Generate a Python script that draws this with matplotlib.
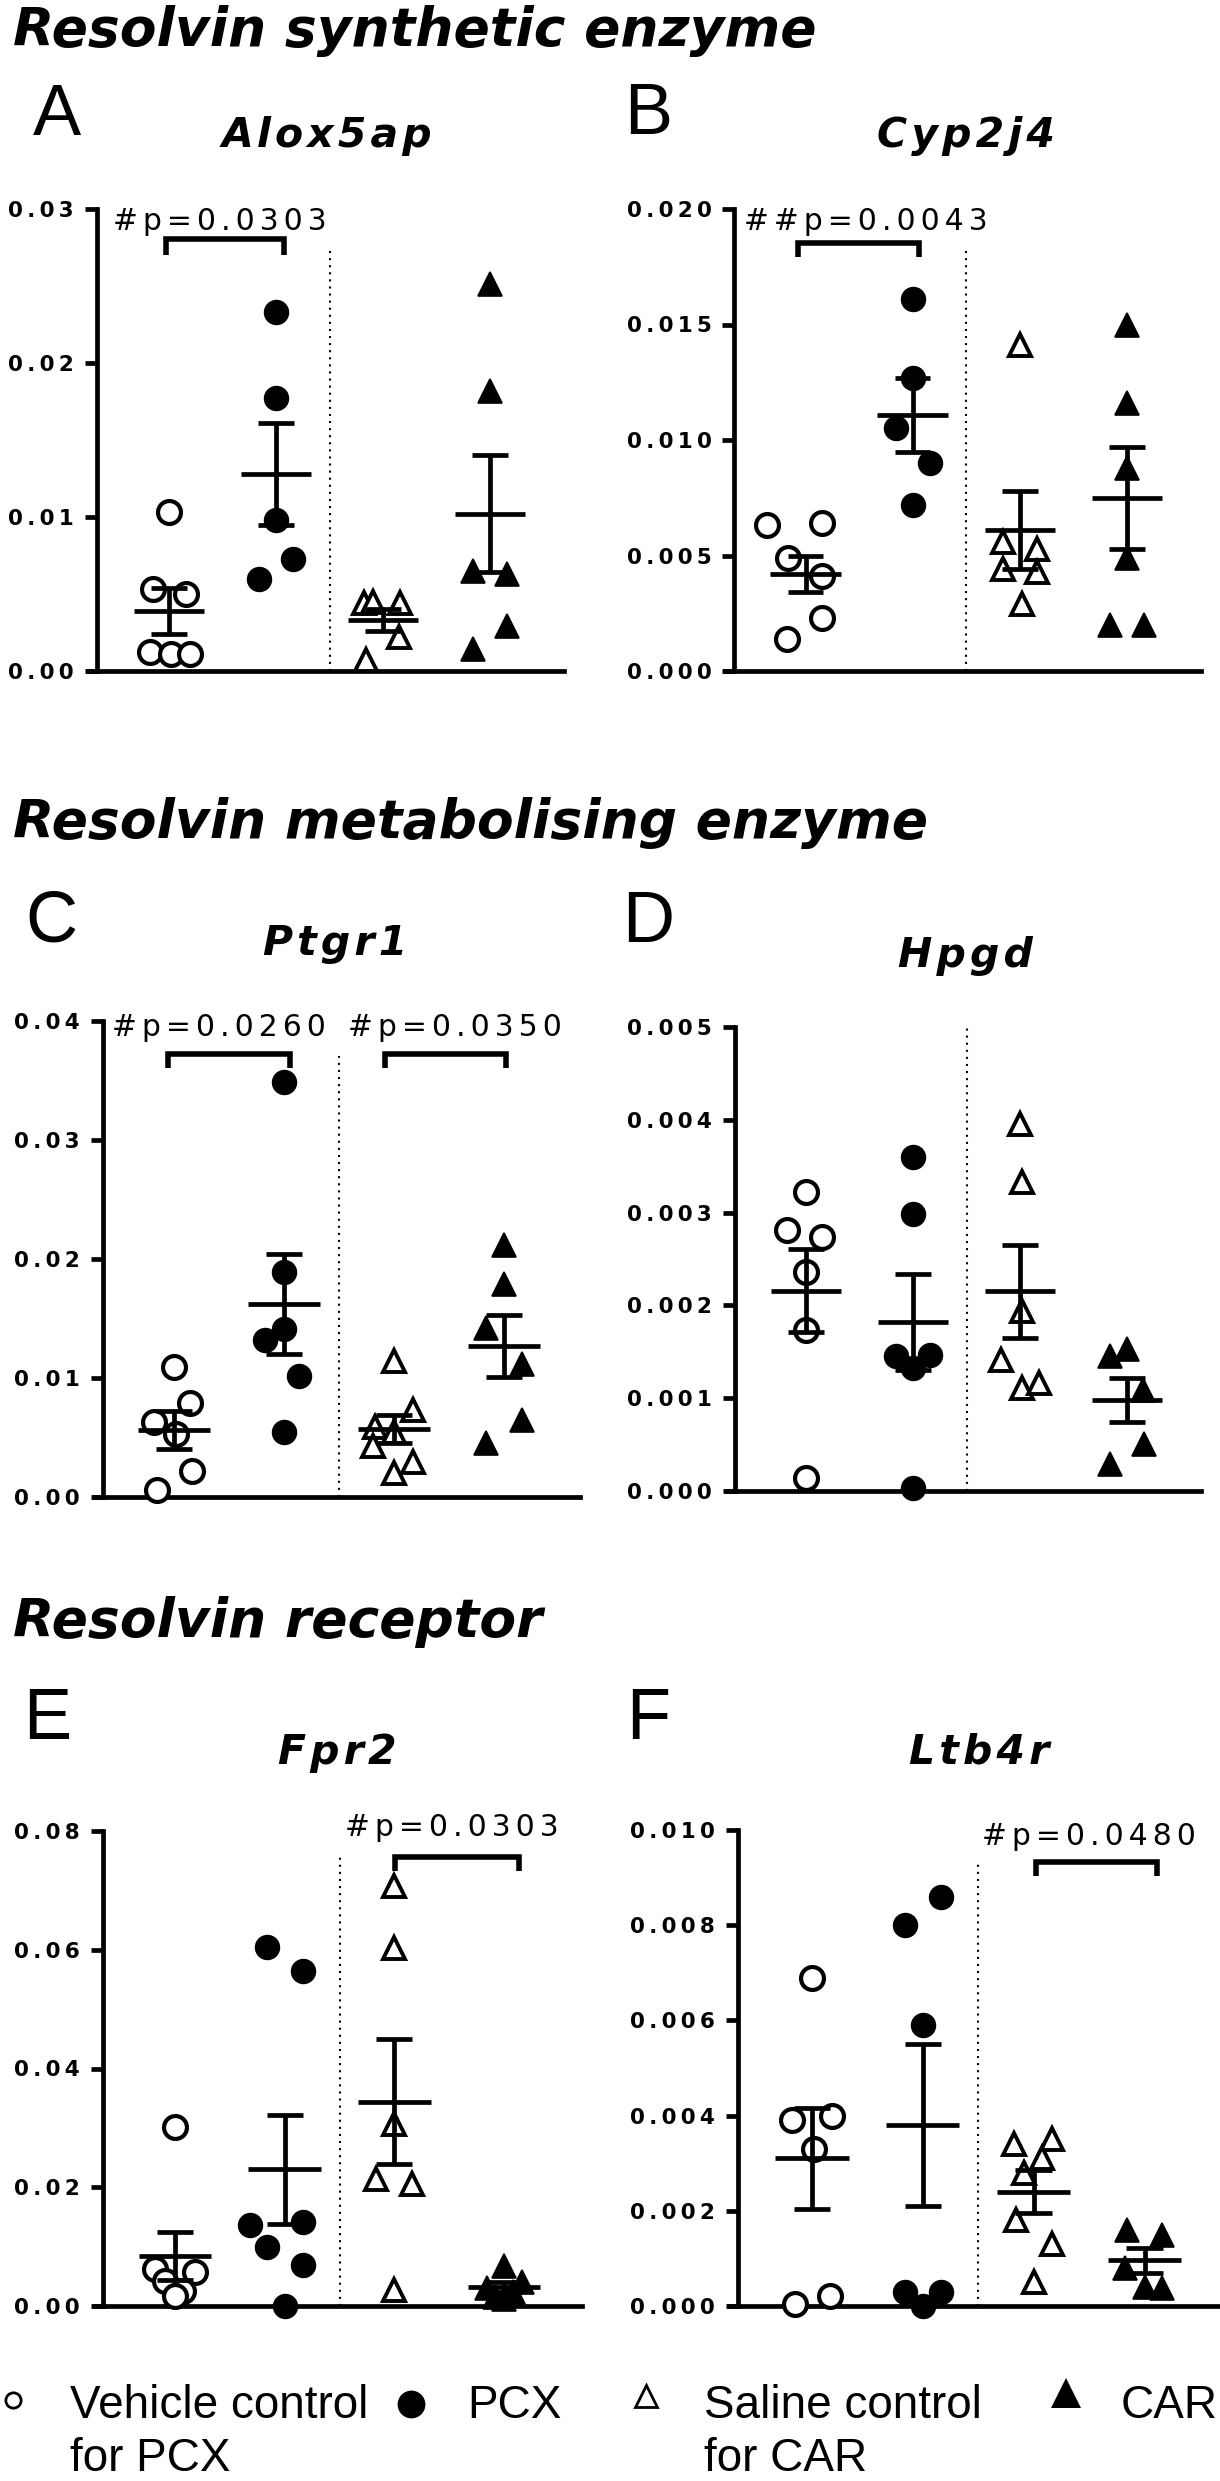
import numpy as np
import matplotlib
matplotlib.use("Agg")
import matplotlib.pyplot as plt
from matplotlib.lines import Line2D

W, H = 1220, 2481
THIN = "\u2009"
SIXTH = "\u2006"
HAIR = "\u200a"

# ---------------- data ----------------
groups = ["Vehicle control\nfor PCX", "PCX", "Saline control\nfor CAR", "CAR"]
genes = ["Alox5ap", "Cyp2j4", "Ptgr1", "Hpgd", "Fpr2", "Ltb4r"]
letters = ["A", "B", "C", "D", "E", "F"]
sections = ["Resolvin synthetic enzyme", "Resolvin metabolising enzyme", "Resolvin receptor"]

ymax = [0.03, 0.020, 0.04, 0.005, 0.08, 0.010]
ystep = [0.01, 0.005, 0.01, 0.001, 0.02, 0.002]
ydec = [2, 3, 2, 3, 2, 3]

alox5ap_vals = [
    [0.0103, 0.0053, 0.0050, 0.00125, 0.0011, 0.0011],
    [0.0233, 0.0177, 0.0098, 0.0073, 0.0060],
    [0.0044, 0.0045, 0.0044, 0.0022, 0.0007],
    [0.0251, 0.0182, 0.0065, 0.0063, 0.0029, 0.0014],
]
alox5ap_mean = [0.0039, 0.0128, 0.0033, 0.0102]
alox5ap_sem = [0.0015, 0.0033, 0.0007, 0.0038]

cyp2j4_vals = [
    [0.0063, 0.0064, 0.0049, 0.0041, 0.0023, 0.0014],
    [0.0161, 0.0127, 0.0105, 0.0090, 0.0072],
    [0.0141, 0.0056, 0.0053, 0.0044, 0.0043, 0.0029],
    [0.0150, 0.0116, 0.0088, 0.0049, 0.0020, 0.0020],
]
cyp2j4_mean = [0.0042, 0.0111, 0.0061, 0.0075]
cyp2j4_sem = [0.0008, 0.0016, 0.0017, 0.0022]

ptgr1_vals = [
    [0.0109, 0.0079, 0.0063, 0.0053, 0.0022, 0.0006],
    [0.0349, 0.0189, 0.0141, 0.0132, 0.0102, 0.0055],
    [0.0114, 0.0073, 0.0059, 0.0055, 0.0043, 0.0029, 0.0020],
    [0.0212, 0.0179, 0.0142, 0.0112, 0.0065, 0.0045],
]
ptgr1_mean = [0.0056, 0.0162, 0.0057, 0.0127]
ptgr1_sem = [0.0016, 0.0042, 0.0012, 0.0026]

hpgd_vals = [
    [0.00322, 0.00281, 0.00274, 0.00236, 0.00174, 0.00014],
    [0.00360, 0.00299, 0.00145, 0.00147, 0.00133, 0.00003],
    [0.00396, 0.00333, 0.00194, 0.00141, 0.00111, 0.00116],
    [0.00153, 0.00145, 0.00109, 0.00051, 0.00029],
]
hpgd_mean = [0.00216, 0.00182, 0.00215, 0.00098]
hpgd_sem = [0.00045, 0.00052, 0.00050, 0.00024]

fpr2_vals = [
    [0.0302, 0.0063, 0.0057, 0.0042, 0.0025, 0.0017],
    [0.0605, 0.0565, 0.0137, 0.0141, 0.0099, 0.0069, 0.0000],
    [0.0708, 0.0603, 0.0306, 0.0214, 0.0205, 0.0027],
    [0.0068, 0.0041, 0.0030, 0.0024, 0.0015, 0.0012],
]
fpr2_mean = [0.0084, 0.0230, 0.0344, 0.0032]
fpr2_sem = [0.0040, 0.0092, 0.0105, 0.0008]

ltb4r_vals = [
    [0.0069, 0.0039, 0.0040, 0.0033, 0.00005, 0.0002],
    [0.0086, 0.0080, 0.0059, 0.0003, 0.0003, 0.0000],
    [0.0034, 0.0035, 0.0031, 0.0028, 0.0018, 0.0013, 0.0005],
    [0.0016, 0.0015, 0.0008, 0.0004, 0.00037],
]
ltb4r_mean = [0.0031, 0.0038, 0.0024, 0.00096]
ltb4r_sem = [0.00107, 0.0017, 0.00045, 0.00026]

# significance labels (group pairs, text)
sig = [
    [(1, 2, "#p=0.0303")],
    [(1, 2, "##p=0.0043")],
    [(1, 2, "#p=0.0260"), (3, 4, "#p=0.0350")],
    [],
    [(3, 4, "#p=0.0303")],
    [(3, 4, "#p=0.0480")],
]

# ---------------- layout (scatter spread inside each column) ----------------
alox5ap_jit = [[0, -0.15, 0.16, -0.18, 0.02, 0.20], [0, 0, 0, 0.16, -0.16],
               [-0.18, -0.09, 0.16, 0.15, -0.16], [0, 0, -0.16, 0.16, 0.16, -0.16]]
cyp2j4_jit = [[-0.36, 0.15, -0.16, 0.15, 0.15, -0.17], [0, 0, -0.16, 0.16, 0],
              [0, -0.16, 0.16, -0.16, 0.16, 0.02], [0, 0, 0, 0, -0.16, 0.16]]
ptgr1_jit = [[0, 0.15, -0.18, 0.02, 0.16, -0.15], [0, 0, 0, -0.17, 0.14, 0],
             [0, 0.17, -0.17, 0, -0.19, 0.17, 0], [0, 0, -0.16, 0.16, 0.16, -0.16]]
hpgd_jit = [[0, -0.18, 0.15, 0, 0, 0], [0, 0, -0.16, 0.16, 0, 0],
            [0, 0.02, 0.02, -0.18, 0.02, 0.18], [0, -0.16, 0.15, 0.16, -0.16]]
fpr2_jit = [[0, -0.18, 0.18, -0.09, 0.07, 0], [-0.16, 0.17, -0.32, 0.17, -0.16, 0.17, 0],
            [0, 0, 0, -0.17, 0.16, 0], [0, 0.16, -0.16, 0.08, -0.08, 0]]
ltb4r_jit = [[0, -0.18, 0.18, 0.02, -0.15, 0.16], [0.16, -0.16, 0, -0.16, 0.16, 0],
             [-0.18, 0.16, 0.07, -0.09, -0.16, 0.16, 0], [-0.16, 0.16, -0.18, 0, 0.16]]

all_vals = [alox5ap_vals, cyp2j4_vals, ptgr1_vals, hpgd_vals, fpr2_vals, ltb4r_vals]
all_mean = [alox5ap_mean, cyp2j4_mean, ptgr1_mean, hpgd_mean, fpr2_mean, ltb4r_mean]
all_sem = [alox5ap_sem, cyp2j4_sem, ptgr1_sem, hpgd_sem, fpr2_sem, ltb4r_sem]
all_jit = [alox5ap_jit, cyp2j4_jit, ptgr1_jit, hpgd_jit, fpr2_jit, ltb4r_jit]

# axes boxes in pixels: left, top, right, bottom
boxes = [(97, 209, 564, 671), (734.5, 209, 1201, 671),
         (103, 1021, 580, 1497), (735, 1027, 1201, 1491),
         (103, 1831, 582, 2306), (738, 1830, 1219, 2306)]
xlims = [(0.327, 4.69), (0.336, 4.69), (0.355, 4.69), (0.336, 4.69), (0.344, 4.71), (0.333, 4.67)]
sep_top = [0.911, 0.911, 0.926, 1.0, 0.947, 0.929]
title_pos = [(327, 147), (966, 147), (335, 955), (965, 967), (337, 1764), (979, 1764)]
letter_pos = [(33, 135), (624, 134), (25, 942), (622, 942), (23, 1739), (626, 1739)]
section_base = [46, 838, 1637]
# bracket geometry: x1, x2 (data), top, leg (axes frac), text x (data), text baseline (axes frac)
brk = [
    [(0.97, 2.07, 0.935, 0.900, 1.47, 0.955)],
    [(0.93, 2.06, 0.926, 0.896, 1.56, 0.955)],
    [(0.95, 2.05, 0.931, 0.901, 1.41, 0.968), (2.92, 4.02, 0.931, 0.901, 3.55, 0.968)],
    [],
    [(3.01, 4.14, 0.945, 0.916, 3.52, 0.990)],
    [(3.02, 4.11, 0.933, 0.903, 3.50, 0.968)],
]

LW = 3.4
styles = [dict(marker="o", mfc="white", mec="black", ms=16.5, mew=3.0),
          dict(marker="o", mfc="black", mec="black", ms=16.5, mew=1.8),
          dict(marker="^", mfc="white", mec="black", ms=16.5, mew=2.8),
          dict(marker="^", mfc="black", mec="black", ms=17.5, mew=1.2)]

fig = plt.figure(figsize=(W / 100, H / 100), dpi=100)


def fx(px):
    return px / W


def fy(py):
    return 1 - py / H


def spaced(s, sep=HAIR):
    return sep.join(s)


for i in range(6):
    l, t, r, b = boxes[i]
    ax = fig.add_axes([fx(l), fy(b), (r - l) / W, (b - t) / H])
    ax.set_xlim(*xlims[i])
    ax.set_ylim(0, ymax[i])
    for s in ["top", "right"]:
        ax.spines[s].set_visible(False)
    for s in ["left", "bottom"]:
        ax.spines[s].set_linewidth(LW)
    ax.set_xticks([])
    ticks = np.round(np.arange(0, ymax[i] + ystep[i] / 2, ystep[i]), 6)
    ax.set_yticks(ticks)
    ax.set_yticklabels([spaced(f"{v:.{ydec[i]}f}", THIN) for v in ticks],
                       fontfamily="DejaVu Sans", fontweight="bold", fontsize=15.5)
    ax.tick_params(axis="y", length=8.5, width=LW, pad=8.0)
    # x axis runs a tick length to the left of the y axis
    ax.plot([-11 / (r - l), 0], [0, 0], transform=ax.transAxes,
            color="black", lw=LW, clip_on=False, solid_capstyle="butt")

    # dotted separator between the two experiments
    ax.plot([2.5, 2.5], [0, sep_top[i]], transform=ax.get_xaxis_transform(),
            color="black", lw=1.5, ls=(0, (1, 2.4)), clip_on=False)

    for g in range(4):
        v = np.array(all_vals[i][g])
        x = g + 1 + np.array(all_jit[i][g])
        ax.plot(x, v, ls="none", clip_on=False, zorder=3, **styles[g])
        m, e = all_mean[i][g], all_sem[i][g]
        ax.hlines(m, g + 1 - 0.33, g + 1 + 0.33, color="black", lw=LW, zorder=4)
        ax.hlines([m - e, m + e], g + 1 - 0.165, g + 1 + 0.165, color="black", lw=LW, zorder=4)
        ax.vlines(g + 1, m - e, m + e, color="black", lw=LW, zorder=4)

    for (g1, g2, txt), (x1, x2, ytop, yleg, tx, ty) in zip(sig[i], brk[i]):
        ax.plot([x1, x1, x2, x2], [yleg, ytop, ytop, yleg], transform=ax.get_xaxis_transform(),
                color="black", lw=LW + 0.6, clip_on=False, solid_joinstyle="miter",
                solid_capstyle="butt")
        ax.text(tx, ty, spaced(txt, SIXTH), transform=ax.get_xaxis_transform(), ha="center",
                va="baseline", fontsize=21.5, fontfamily="DejaVu Sans", clip_on=False)

    gx, gy = title_pos[i]
    fig.text(fx(gx), fy(gy), spaced(genes[i]), ha="center", va="baseline",
             fontsize=29.5, fontfamily="DejaVu Sans", fontweight="bold", fontstyle="italic")
    lx, ly = letter_pos[i]
    fig.text(fx(lx), fy(ly), letters[i], ha="left", va="baseline",
             fontsize=52, fontfamily="Liberation Sans")

for s, yb in zip(sections, section_base):
    fig.text(fx(13), fy(yb), s, ha="left", va="baseline", fontsize=38.5,
             fontfamily="DejaVu Sans", fontweight="bold", fontstyle="italic")

# legend keys and labels along the bottom
key_pos = [(13, 2400), (411, 2404), (646, 2396), (1066, 2393)]
key_style = [dict(marker="o", mfc="white", mec="black", ms=11, mew=2.0),
             dict(marker="o", mfc="black", mec="black", ms=20, mew=0),
             dict(marker="^", mfc="white", mec="black", ms=16, mew=2.0),
             dict(marker="^", mfc="black", mec="black", ms=22, mew=0)]
label_x = [70, 467, 704, 1121]
for g in range(4):
    kx, ky = key_pos[g]
    fig.add_artist(Line2D([fx(kx)], [fy(ky)], transform=fig.transFigure, ls="none",
                          **key_style[g]))
    for k, line in enumerate(groups[g].split("\n")):
        fig.text(fx(label_x[g]), fy(2418 + 53 * k), line, ha="left", va="baseline",
                 fontsize=33, fontfamily="Liberation Sans")

fig.savefig("out.png", dpi=100)
